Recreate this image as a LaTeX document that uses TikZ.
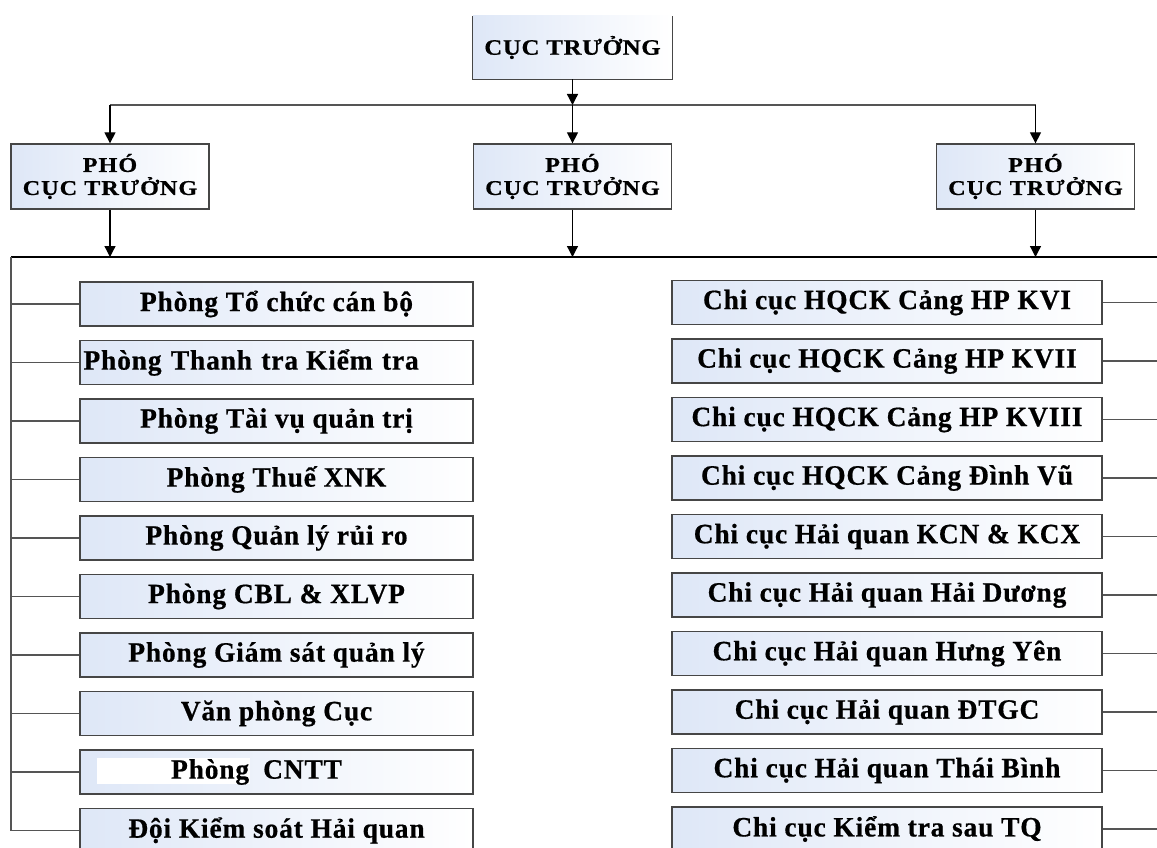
\documentclass[tikz,border=0pt]{standalone}
\usepackage{fontspec}
\setmainfont{Liberation Serif}
\newfontfamily\boxfont[FakeStretch=0.98,LetterSpace=3,FakeBold=0.6]{Liberation Serif}
\newfontfamily\headfont[FakeStretch=1.15,LetterSpace=5,FakeBold=0.6]{Liberation Serif}
\newfontfamily\topfont[FakeStretch=1.13,LetterSpace=3,FakeBold=0.6]{Liberation Serif}
\usetikzlibrary{arrows.meta}
\definecolor{boxblue}{RGB}{222,231,247}
\definecolor{edgec}{RGB}{70,70,70}
\definecolor{connc}{RGB}{85,85,85}
\tikzset{
  shadebox/.style={left color=boxblue, right color=white, inner sep=0pt},
  unitbox/.style={shadebox, draw=edgec, line width=1.3pt, minimum height=44pt,
    font=\boxfont\bfseries\fontsize{28}{30}\selectfont},
  leftbox/.style={unitbox, minimum width=393pt},
  rightbox/.style={unitbox, minimum width=430pt},
  headbox/.style={shadebox, draw=edgec, line width=1.3pt, minimum width=198pt, minimum height=65pt,
    align=center, font=\headfont\bfseries\fontsize{21}{23}\selectfont},
  conn/.style={draw=connc, line width=1.3pt},
  bus/.style={draw=black, line width=1.6pt},
  arr/.style={draw=black, line width=1.3pt, -{Triangle[width=11pt,length=11pt]}},
}
\begin{document}
\begin{tikzpicture}[x=1pt,y=-1pt]
\useasboundingbox (0,0) rectangle (1157,848);
\clip (0,0) rectangle (1157,848);

% top box (no top border visible)
\node[shadebox, minimum width=199pt, minimum height=63pt,
  font=\topfont\bfseries\fontsize{22}{24}\selectfont] (T) at (572.5,47.5) {CỤC TRƯỞNG};
\draw[draw=edgec, line width=1.3pt] (T.north west) -- (T.south west) -- (T.south east) -- (T.north east);

% deputies
\node[headbox] (P1) at (110,176.5) {PHÓ\\CỤC TRƯỞNG};
\node[headbox] (P2) at (572.5,176.5) {PHÓ\\CỤC TRƯỞNG};
\node[headbox] (P3) at (1035.5,176.5) {PHÓ\\CỤC TRƯỞNG};

\coordinate (hl) at (110,105);
\coordinate (hr) at (1035.5,105);
\draw[conn] (hl) -- (hr);
\draw[arr] (T.south) -- (T.south |- hl);
\draw[arr] (T.south |- hl) -- (P2.north);
\draw[arr] (hl) -- (P1.north);
\draw[arr] (hr) -- (P3.north);

% main bus
\coordinate (lbus) at (11,257);
\coordinate (rbus) at (1160,257);
\draw[bus] (lbus) -- (rbus);
\draw[arr] (P1.south) -- (P1.south |- lbus);
\draw[arr] (P2.south) -- (P2.south |- lbus);
\draw[arr] (P3.south) -- (P3.south |- lbus);

% left column
\node[leftbox] (L1) at (276.5,304) {Phòng Tổ chức cán bộ};
\node[leftbox, text width=386pt, align=left] (L2) at (276.5,362.5) {Phòng Thanh tra\hspace{8pt}Kiểm tra};
\node[leftbox] (L3) at (276.5,421) {Phòng Tài vụ quản trị};
\node[leftbox] (L4) at (276.5,479.5) {Phòng Thuế XNK};
\node[leftbox] (L5) at (276.5,538) {Phòng Quản lý rủi ro};
\node[leftbox] (L6) at (276.5,596.5) {Phòng CBL \& XLVP};
\node[leftbox] (L7) at (276.5,655) {Phòng Giám sát quản lý};
\node[leftbox] (L8) at (276.5,713.5) {Văn phòng Cục};
\node[leftbox] (L9) at (276.5,772) {};
\fill[white] (97,758) rectangle (250,784);
\node[font=\boxfont\bfseries\fontsize{28}{30}\selectfont, inner sep=0pt] (L9t) at (L9.center) {\hspace*{-40pt}Phòng\hspace{14pt}CNTT};
\node[leftbox] (L10) at (276.5,830.5) {Đội Kiểm soát Hải quan};

\draw[conn] (lbus) -- (lbus |- L10.west) -- (L10.west);
\foreach \i in {1,...,9} {
  \draw[conn] (lbus |- L\i.west) -- (L\i.west);
}

% right column
\node[rightbox] (R1) at (887,302.5) {Chi cục HQCK Cảng HP KVI};
\node[rightbox] (R2) at (887,361) {Chi cục HQCK Cảng HP KVII};
\node[rightbox] (R3) at (887,419.5) {Chi cục HQCK Cảng HP KVIII};
\node[rightbox] (R4) at (887,478) {Chi cục HQCK Cảng Đình Vũ};
\node[rightbox] (R5) at (887,536.5) {Chi cục Hải quan KCN \& KCX};
\node[rightbox] (R6) at (887,595) {Chi cục Hải quan Hải Dương};
\node[rightbox] (R7) at (887,653.5) {Chi cục Hải quan Hưng Yên};
\node[rightbox] (R8) at (887,712) {Chi cục Hải quan ĐTGC};
\node[rightbox] (R9) at (887,770.5) {Chi cục Hải quan Thái Bình};
\node[rightbox] (R10) at (887,829) {Chi cục Kiểm tra sau TQ};

\foreach \i in {1,...,10} {
  \draw[conn] (R\i.east) -- (R\i.east -| rbus);
}
\end{tikzpicture}
\end{document}
